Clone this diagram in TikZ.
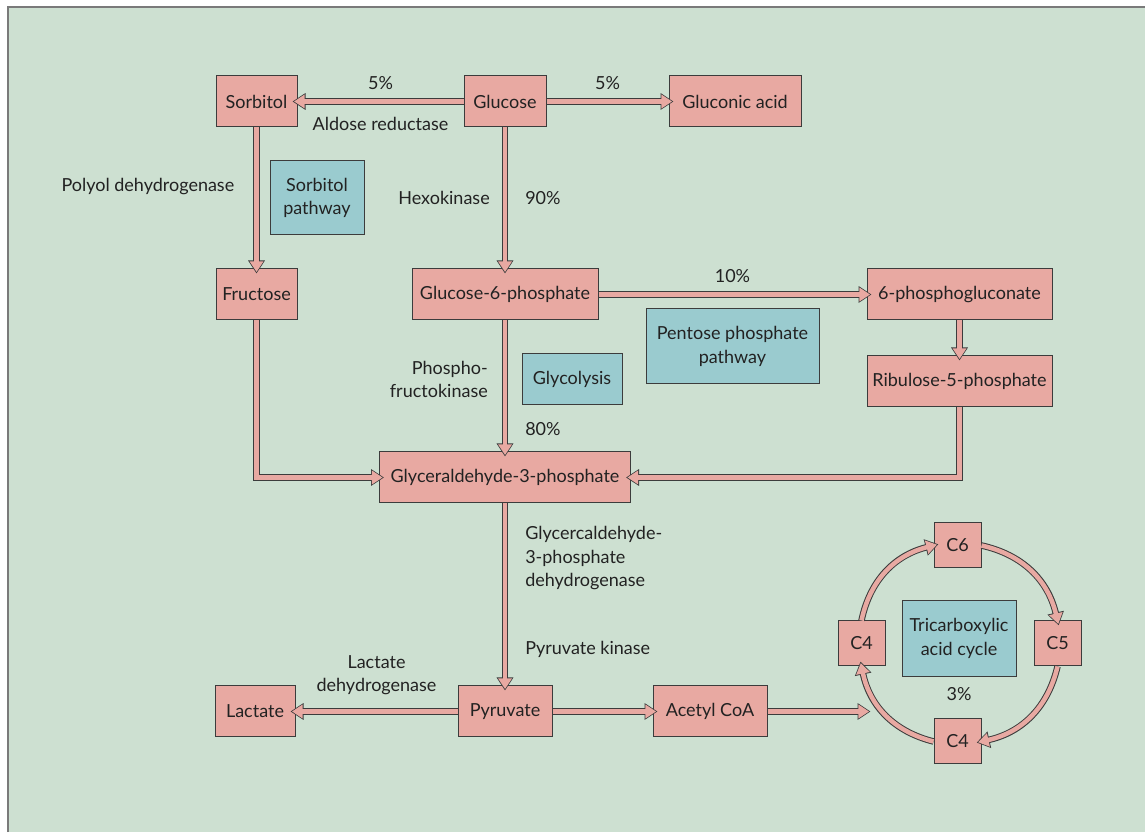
\documentclass[tikz,border=0pt]{standalone}
\usepackage{fontspec}
\setmainfont{Lato}
\usepackage{xcolor}
\usepackage{tikz}
\usetikzlibrary{positioning,arrows.meta}

\definecolor{bggreen}{HTML}{CDE0D1}
\definecolor{boxpink}{HTML}{E8A9A2}
\definecolor{boxblue}{HTML}{9ACBCF}
\definecolor{edgegray}{HTML}{3C3C3C}
\definecolor{framegray}{HTML}{7A7A7A}
\definecolor{inkgray}{HTML}{222222}

\begin{document}
\begin{tikzpicture}[
    x=1pt, y=1pt,
    font=\fontsize{18}{23.5}\selectfont,
    every node/.style={align=center, text=inkgray},
    chem/.style={draw=edgegray, fill=boxpink, line width=1pt,
        minimum height=51pt, inner sep=0pt},
    pathway/.style={draw=edgegray, fill=boxblue, line width=1pt, inner sep=0pt},
    note/.style={inner sep=0pt},
    pipe/.style={draw=edgegray, line width=6.5pt, shorten >=-5pt,
        -{Triangle[length=13pt, width=16pt]},
        postaction={draw=boxpink, line width=4.5pt, shorten >=-3.5pt,
            -{Triangle[length=10.6pt, width=13.2pt]}}}
]

% Frame
\useasboundingbox (0,0) rectangle (1145,832);
\fill[bggreen] (8,0) rectangle (1145,825);
\draw[framegray, line width=1.6pt] (8,0) -- (8,825) -- (1145,825);

% Nodes
\node[chem, minimum width=82pt] (glucose) at (505,730.5) {Glucose};
\node[chem, minimum width=81pt, left=166pt of glucose] (sorbitol) {Sorbitol};
\node[chem, minimum width=132pt, right=122pt of glucose] (gluconic) {Gluconic acid};
\node[chem, minimum width=81pt, below=141pt of sorbitol] (fructose) {Fructose};
\node[chem, minimum width=186pt, below=141pt of glucose] (g6p) {Glucose-6-phosphate};
\node[chem, minimum width=185pt, right=268pt of g6p] (pglu) {6-phosphogluconate};
\node[chem, minimum width=185pt, below=35pt of pglu] (ribu) {Ribulose-5-phosphate};
\node[chem, minimum width=251pt, below=131pt of g6p] (g3p) {Glyceraldehyde-3-phosphate};
\node[chem, minimum width=94pt, below=182pt of g3p] (pyruvate) {Pyruvate};
\node[chem, minimum width=80pt, left=162pt of pyruvate] (lactate) {Lactate};
\node[chem, minimum width=114pt, right=100pt of pyruvate] (acetyl) {Acetyl CoA};
\coordinate[right=98pt of acetyl.east] (tcain);

% Pathway labels
\node[pathway, minimum width=94pt, minimum height=74pt] (sorbpath) at (317,634) {Sorbitol\\pathway};
\node[pathway, minimum width=100pt, minimum height=51pt] (glyco) at (572,452.5) {Glycolysis};
\node[pathway, minimum width=173pt, minimum height=75pt] (pentose) at (732.5,485.5) {Pentose phosphate\\pathway};

% Tricarboxylic acid cycle
\coordinate (cycle) at (957.5,188.5);
\node[pathway, minimum width=114pt, minimum height=76pt] (tca) at ([shift={(1.5pt,5pt)}]cycle) {Tricarboxylic\\acid cycle};
\node[note, below=10pt of tca] (tcapct) {3\%};
\node[chem, minimum width=47pt, minimum height=45pt] (c6) at ([yshift=98pt]cycle) {C6};
\node[chem, minimum width=47pt, minimum height=45pt] (c5) at ([xshift=100pt]cycle) {C5};
\node[chem, minimum width=47pt, minimum height=45pt] (c4b) at ([yshift=-98pt]cycle) {C4};
\node[chem, minimum width=47pt, minimum height=45pt] (c4a) at ([xshift=-96pt]cycle) {C4};

% Reactions
\draw[pipe] (glucose) -- node[note, above=9pt] {5\%}
    node[note, below=13pt] {Aldose reductase} (sorbitol);
\draw[pipe] (glucose) -- node[note, above=9pt] {5\%} (gluconic);
\draw[pipe] (sorbitol) -- node[note, left=19pt, pos=0.42] {Polyol dehydrogenase} (fructose);
\draw[pipe] (glucose) -- node[note, left=12pt] {Hexokinase}
    node[note, right=17pt] {90\%} (g6p);
\draw[pipe] (g6p) -- node[note, above=9pt] {10\%} (pglu);
\draw[pipe] (pglu) -- (ribu);
\draw[pipe] (fructose) |- (g3p);
\draw[pipe] (ribu) |- (g3p);
\draw[pipe] (g6p) -- node[note, left=14pt, pos=0.45, align=right] {Phospho-\\fructokinase}
    node[note, right=17pt, pos=0.83] {80\%} (g3p);
\draw[pipe] (g3p) -- node[note, right=17pt, pos=0.30, align=left] {Glycercaldehyde-\\3-phosphate\\dehydrogenase}
    node[note, right=17pt, pos=0.80] {Pyruvate kinase} (pyruvate);
\draw[pipe] (pyruvate) -- node[note, above=13pt] {Lactate\\dehydrogenase} (lactate);
\draw[pipe] (pyruvate) -- (acetyl);
\draw[pipe] (acetyl) -- (tcain);

% Cycle arcs
\draw[pipe] (c4a.north) to[bend left=32] (c6.west);
\draw[pipe] (c6.east) to[bend left=32] (c5.north);
\draw[pipe] (c5.south) to[bend left=32] (c4b.east);
\draw[pipe] (c4b.west) to[bend left=32] (c4a.south);

\end{tikzpicture}
\end{document}
